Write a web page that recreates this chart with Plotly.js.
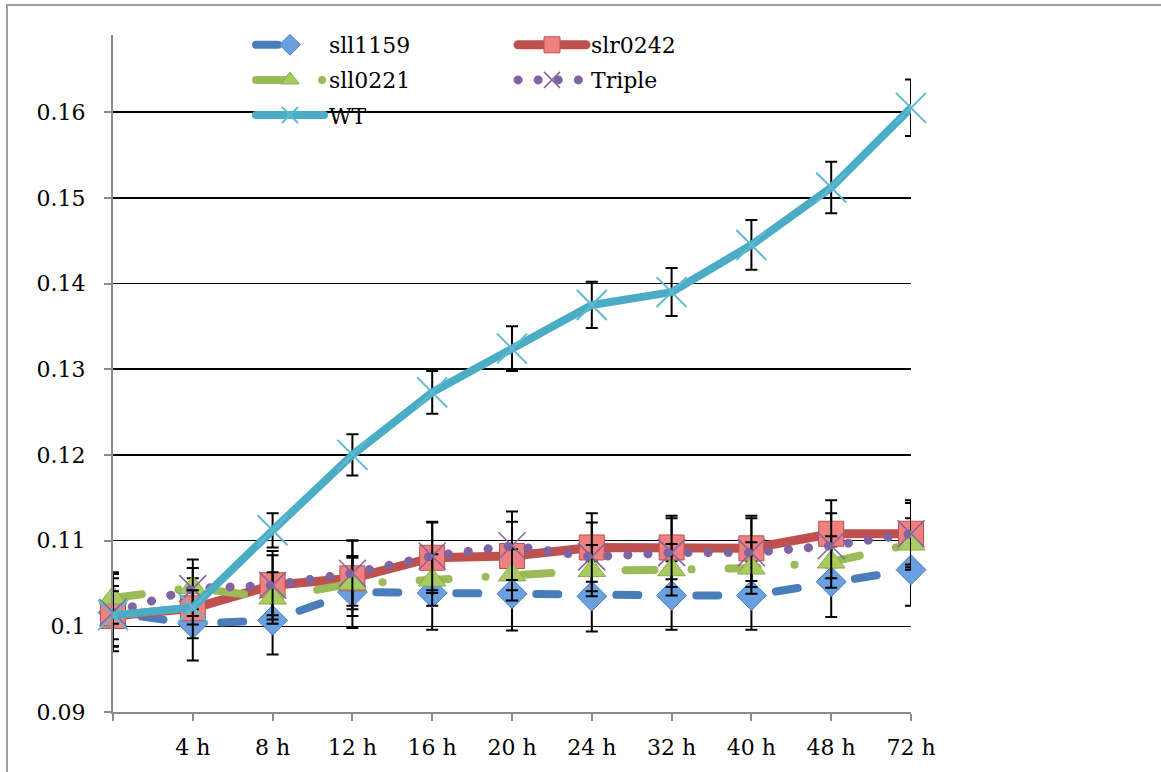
<!DOCTYPE html>
<html>
<head>
<meta charset="utf-8">
<script src="https://cdn.plot.ly/plotly-3.0.1.min.js"></script>
<style>
  html, body { margin: 0; padding: 0; background: #fff; }
  #wrap { position: relative; width: 1161px; height: 772px; overflow: hidden; }
  #chart { position: absolute; left: 0; top: 0; width: 1161px; height: 772px; }
  #frame { position: absolute; left: 6px; top: 4px; width: 1200px; height: 800px;
           border-left: 2px solid #a0a0a0; border-top: 2px solid #a0a0a0; pointer-events: none; }
  #chart path.js-line { stroke-linecap: round !important; stroke-linejoin: round !important; }
</style>
</head>
<body>
<div id="wrap">
  <div id="chart"></div>
  <div id="frame"></div>
</div>
<script>
// Categories and tick labels
const categories = ['0 h', '4 h', '8 h', '12 h', '16 h', '20 h', '24 h', '32 h', '40 h', '48 h', '72 h'];
const tickLabels = ['', '4 h', '8 h', '12 h', '16 h', '20 h', '24 h', '32 h', '40 h', '48 h', '72 h'];

// Series values
const sll1159 = [0.1016, 0.1003, 0.1007, 0.1040, 0.1039, 0.1038, 0.1035, 0.1036, 0.1036, 0.1052, 0.1066];
const slr0242 = [0.1012, 0.1021, 0.1048, 0.1056, 0.1080, 0.1082, 0.1092, 0.1092, 0.1091, 0.1108, 0.1108];
const sll0221 = [0.1033, 0.1045, 0.1033, 0.1050, 0.1054, 0.1060, 0.1065, 0.1066, 0.1068, 0.1075, 0.1096];
const triple  = [0.1016, 0.1044, 0.1048, 0.1062, 0.1082, 0.1094, 0.1081, 0.1086, 0.1086, 0.1094, 0.1108];
const wt      = [0.1013, 0.1022, 0.1112, 0.1200, 0.1273, 0.1324, 0.1375, 0.1390, 0.1445, 0.1512, 0.1605];

// Error bar half-lengths
const sll1159Err = [0.0040, 0.0043, 0.0040, 0.0042, 0.0043, 0.0043, 0.0041, 0.0040, 0.0040, 0.0041, 0.0042];
const slr0242Err = [0.0035, 0.0035, 0.0040, 0.0044, 0.0041, 0.0040, 0.0040, 0.0037, 0.0038, 0.0039, 0.0039];
const sll0221Err = [0.0030, 0.0033, 0.0030, 0.0030, 0.0030, 0.0030, 0.0030, 0.0030, 0.0030, 0.0030, 0.0030];
const tripleErr  = [0.0045, 0.0024, 0.0035, 0.0038, 0.0040, 0.0040, 0.0040, 0.0040, 0.0040, 0.0038, 0.0036];
const wtErr      = [0.0028, 0.0020, 0.0020, 0.0024, 0.0025, 0.0026, 0.0027, 0.0028, 0.0029, 0.0030, 0.0033];

const FONT = 'DejaVu Serif';

function errBar(arr) {
  return { type: 'data', array: arr, visible: true, color: '#000', thickness: 2, width: 6 };
}

const traces = [
  {
    name: 'sll1159', x: categories, y: sll1159, legend: 'legend', legendgroup: 'a',
    mode: 'lines+markers', cliponaxis: false,
    line: { color: '#4a7ebb', width: 8, dash: '22px,58px' },
    marker: { symbol: 'diamond', size: 23, color: '#6a9fe0', line: { color: '#4a7ebb', width: 1 } },
    error_y: errBar(sll1159Err)
  },
  {
    name: 'slr0242', x: categories, y: slr0242, legend: 'legend2', legendgroup: 'b',
    mode: 'lines+markers', cliponaxis: false,
    line: { color: '#c0504d', width: 9 },
    marker: { symbol: 'square', size: 25, color: '#ee8080', line: { color: '#c0504d', width: 1 } },
    error_y: errBar(slr0242Err)
  },
  {
    name: 'sll0221', x: categories, y: sll0221, legend: 'legend', legendgroup: 'c',
    mode: 'lines+markers', cliponaxis: false,
    line: { color: '#9bbb59', width: 8, dash: '29px,37px,0.1px,37px' },
    marker: { symbol: 'triangle-up', size: 24, color: '#a8cc60', line: { color: '#8aab4a', width: 1 } },
    error_y: errBar(sll0221Err)
  },
  {
    name: 'Triple', x: categories, y: triple, legend: 'legend2', legendgroup: 'd',
    mode: 'lines+markers', cliponaxis: false,
    line: { color: '#8064a2', width: 9, dash: '0.1px,20px' },
    marker: { symbol: 'x-thin-open', size: 27, color: '#8064a2', line: { color: '#8a6fb0', width: 1.5 } },
    error_y: errBar(tripleErr)
  },
  {
    name: 'WT', x: categories, y: wt, legend: 'legend', legendgroup: 'e',
    mode: 'lines+markers', cliponaxis: false,
    line: { color: '#4bacc6', width: 8 },
    marker: { symbol: 'x-thin-open', size: 30, color: '#5fbad2', line: { color: '#5fbad2', width: 2 } },
    error_y: errBar(wtErr)
  }
];

const legendBase = {
  xref: 'container', yref: 'container', xanchor: 'left', yanchor: 'top',
  bgcolor: 'rgba(0,0,0,0)', borderwidth: 0, itemwidth: 68, tracegroupgap: 3.5,
  font: { family: FONT, size: 22, color: '#000' }
};

const layout = {
  width: 1161, height: 772,
  margin: { l: 113, r: 250, t: 35, b: 60, pad: 0, autoexpand: false },
  paper_bgcolor: '#fff', plot_bgcolor: 'rgba(0,0,0,0)',
  font: { family: FONT, size: 22, color: '#000' },
  showlegend: true,
  legend: Object.assign({}, legendBase, { x: 251 / 1161, y: 1 - 24 / 772 }),
  legend2: Object.assign({}, legendBase, { x: 513 / 1161, y: 1 - 24 / 772 }),
  xaxis: {
    type: 'category', categoryorder: 'array', categoryarray: categories,
    tickvals: categories, ticktext: tickLabels,
    range: [0, categories.length - 1], automargin: false, tickangle: 0,
    showline: true, linecolor: '#8c8c8c', linewidth: 2,
    ticks: 'outside', ticklen: 7, tickwidth: 2, tickcolor: '#8c8c8c',
    showgrid: false, zeroline: false, ticklabelstandoff: 8,
    tickfont: { family: FONT, size: 22, color: '#000' }
  },
  yaxis: {
    range: [0.09, 0.169], tick0: 0.09, dtick: 0.01, automargin: false,
    showline: true, linecolor: '#8c8c8c', linewidth: 2,
    ticks: 'outside', ticklen: 7, tickwidth: 2, tickcolor: '#8c8c8c',
    showgrid: true, gridcolor: '#000', gridwidth: 1.5, zeroline: false,
    ticklabelstandoff: 14,
    tickfont: { family: FONT, size: 22, color: '#000' }
  }
};

Plotly.newPlot('chart', traces, layout, { staticPlot: true, displayModeBar: false }).then(function (gd) {
  gd.querySelectorAll('path.js-line').forEach(function (p) {
    p.setAttribute('stroke-linecap', 'round');
    p.style.setProperty('stroke-linecap', 'round', 'important');
  });
  // shift the sll1159 dash phase so each dash sits mid-segment, as in the reference
  const tr = gd.querySelectorAll('.scatterlayer .trace');
  if (tr[0]) {
    const lp = tr[0].querySelector('path.js-line');
    if (lp) lp.style.strokeDashoffset = '51px';
  }
});
</script>
</body>
</html>
